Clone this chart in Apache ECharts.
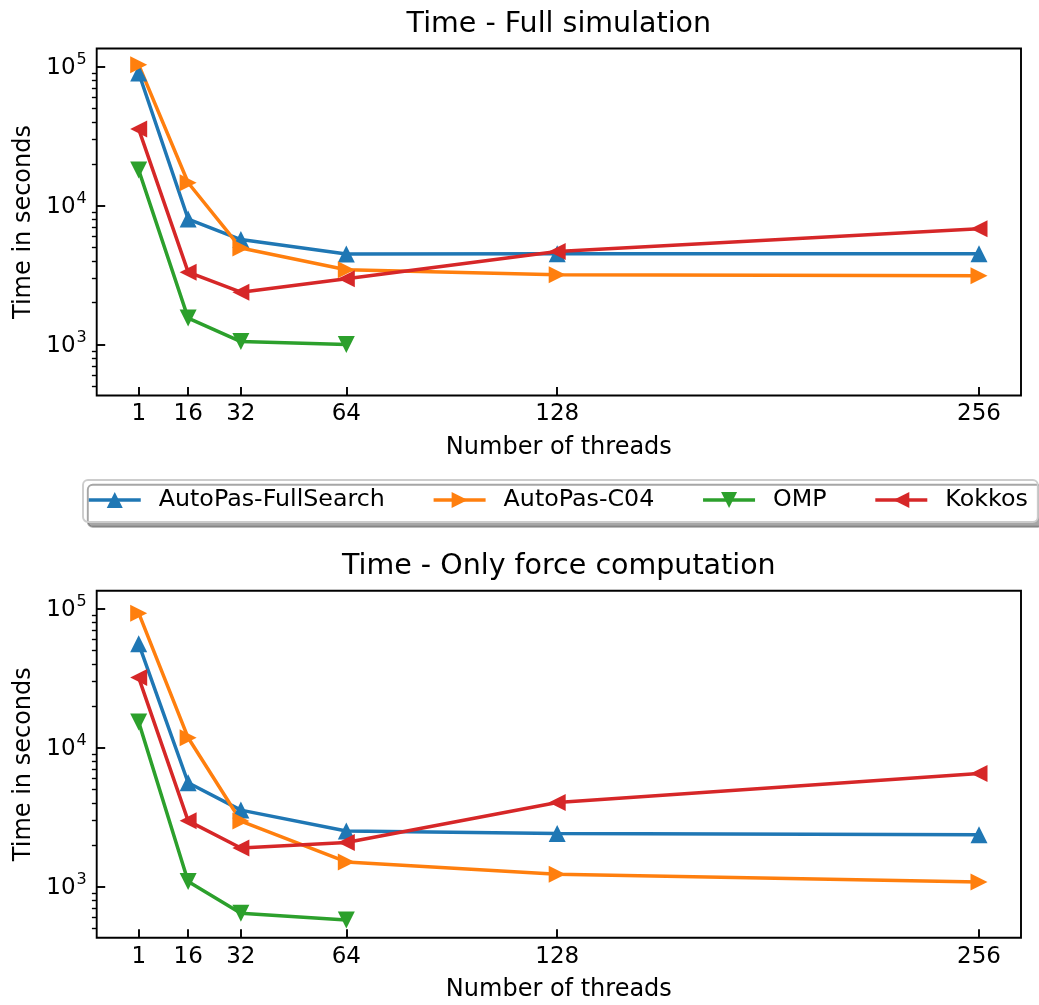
<!DOCTYPE html>
<html>
<head>
<meta charset="utf-8">
<script src="https://cdn.jsdelivr.net/npm/echarts@6/dist/echarts.min.js"></script>
<style>html,body{margin:0;padding:0;background:#fff}#c{width:1039px;height:1005px}</style>
</head>
<body>
<div id="c"></div>
<script>
// ---- data ----
const threads = [1, 16, 32, 64, 128, 256];
const ompThreads = [1, 16, 32, 64];
const seriesNames = ['AutoPas-FullSearch', 'AutoPas-C04', 'OMP', 'Kokkos'];

// Time - Full simulation (seconds)
const fullFullSearch = [90000, 8000, 5700, 4480, 4500, 4500];
const fullC04 = [103000, 14600, 4950, 3450, 3180, 3130];
const fullOMP = [18000, 1550, 1050, 1000];
const fullKokkos = [35500, 3320, 2380, 2980, 4670, 6800];

// Time - Only force computation (seconds)
const forceFullSearch = [56000, 5600, 3560, 2520, 2420, 2370];
const forceC04 = [93000, 11800, 2970, 1510, 1230, 1080];
const forceOMP = [15300, 1090, 645, 577];
const forceKokkos = [32000, 2980, 1900, 2080, 4040, 6530];

// tick labels
const xTicks = [1, 16, 32, 64, 128, 256];
const yMajorTicks = [1000, 10000, 100000];
const yMinorTicks = [500, 600, 700, 800, 900, 2000, 3000, 4000, 5000, 6000, 7000, 8000, 9000,
  20000, 30000, 40000, 50000, 60000, 70000, 80000, 90000];

const titles = ['Time - Full simulation', 'Time - Only force computation'];
const xName = 'Number of threads';
const yName = 'Time in seconds';

// ---- style ----
const FONT = 'DejaVu Sans';
const COLORS = ['#1f77b4', '#ff7f0e', '#2ca02c', '#d62728'];
const SYMBOLS = [
  'path://M0,-1L1,1L-1,1Z',   // triangle up
  'path://M-1,-1L1,0L-1,1Z',  // triangle right
  'path://M-1,-1L1,-1L0,1Z',  // triangle down
  'path://M1,-1L-1,0L1,1Z'    // triangle left
];
const Y_MIN = 430, Y_MAX = 135000;
const X_MIN = -11.75, X_MAX = 268.75;
const GRID_LEFT = 96.7, GRID_W = 924.3;
const gridTops = [48.5, 590.7];
const gridH = 347;

const grids = gridTops.map(t => ({
  left: GRID_LEFT, top: t, width: GRID_W, height: gridH,
  show: true, borderColor: '#000', borderWidth: 1.9, backgroundColor: 'transparent'
}));

const xAxes = [0, 1].map(g => ({
  type: 'value', gridIndex: g, min: X_MIN, max: X_MAX,
  name: xName, nameLocation: 'middle', nameGap: 40,
  nameTextStyle: { fontFamily: FONT, fontSize: 24, color: '#000' },
  axisLine: { show: false },
  axisTick: { show: true, inside: true, length: 8.5, customValues: xTicks,
    lineStyle: { color: '#000', width: 1.9 } },
  axisLabel: { show: true, customValues: xTicks, fontFamily: FONT, fontSize: 23, color: '#000', margin: 7.5 },
  splitLine: { show: false }
}));

const lg = v => Math.log10(v);
const yAxes = [];
[0, 1].forEach(g => {
  // data axis (log scale) carrying the series
  yAxes.push({
    type: 'log', logBase: 10, gridIndex: g, min: Y_MIN, max: Y_MAX, position: 'left',
    name: yName, nameLocation: 'middle', nameGap: 61,
    nameTextStyle: { fontFamily: FONT, fontSize: 24, color: '#000' },
    axisLine: { show: false }, axisTick: { show: false }, axisLabel: { show: false },
    splitLine: { show: false }, minorTick: { show: false }
  });
  // major ticks + labels (same scale expressed as exponent)
  yAxes.push({
    type: 'value', gridIndex: g, min: lg(Y_MIN), max: lg(Y_MAX), position: 'left',
    axisLine: { show: false },
    axisTick: { show: true, inside: true, length: 8.5, customValues: yMajorTicks.map(lg),
      lineStyle: { color: '#000', width: 1.9 } },
    axisLabel: {
      show: true, customValues: yMajorTicks.map(lg), margin: 10,
      formatter: v => '{b|10}{s|' + Math.round(v) + '}',
      rich: {
        b: { fontFamily: FONT, fontSize: 23, color: '#000', padding: [3, 0, 0, 0] },
        s: { fontFamily: FONT, fontSize: 16, color: '#000', padding: [0, 0, 14, 1] }
      }
    },
    splitLine: { show: false }
  });
  // minor ticks
  yAxes.push({
    type: 'value', gridIndex: g, min: lg(Y_MIN), max: lg(Y_MAX), position: 'left',
    axisLine: { show: false },
    axisTick: { show: true, inside: false, length: 4.8, customValues: yMinorTicks.map(lg),
      lineStyle: { color: '#000', width: 1.4 } },
    axisLabel: { show: false },
    splitLine: { show: false }
  });
});

function mk(idx, xs, ys, g) {
  return {
    type: 'line', name: seriesNames[idx], xAxisIndex: g, yAxisIndex: g * 3,
    data: xs.map((x, i) => [x, ys[i]]),
    symbol: SYMBOLS[idx], symbolSize: 17, showSymbol: true,
    lineStyle: { width: 3.5, color: COLORS[idx] },
    itemStyle: { color: COLORS[idx] },
    emphasis: { disabled: true },
    animation: false
  };
}

const series = [
  mk(0, threads, fullFullSearch, 0),
  mk(1, threads, fullC04, 0),
  mk(2, ompThreads, fullOMP, 0),
  mk(3, threads, fullKokkos, 0),
  mk(0, threads, forceFullSearch, 1),
  mk(1, threads, forceC04, 1),
  mk(2, ompThreads, forceOMP, 1),
  mk(3, threads, forceKokkos, 1)
];

const titleCenter = GRID_LEFT + GRID_W / 2;
const option = {
  backgroundColor: '#fff',
  animation: false,
  title: [
    { text: titles[0], left: titleCenter, top: 10, padding: 0, textAlign: 'center', textVerticalAlign: 'top',
      textStyle: { fontFamily: FONT, fontSize: 28.5, fontWeight: 'normal', color: '#000' } },
    { text: titles[1], left: titleCenter, top: 552, padding: 0, textAlign: 'center', textVerticalAlign: 'top',
      textStyle: { fontFamily: FONT, fontSize: 28.5, fontWeight: 'normal', color: '#000' } }
  ],
  legend: {
    data: seriesNames, orient: 'horizontal', left: 83, top: 480,
    itemWidth: 52, itemHeight: 20, itemGap: 47,
    padding: [8, 10, 10, 4],
    backgroundColor: '#fff', borderColor: '#cccccc', borderWidth: 1.9, borderRadius: 5,
    shadowColor: 'rgba(77,77,77,0.5)', shadowOffsetX: 4.8, shadowOffsetY: 4.8, shadowBlur: 0,
    textStyle: { fontFamily: FONT, fontSize: 23.75, color: '#000', padding: [0, 0, 0, 13] },
    lineStyle: { width: 3.5 },
    selectedMode: false
  },
  grid: grids,
  xAxis: xAxes,
  yAxis: yAxes,
  series: series
};

const chart = echarts.init(document.getElementById('c'), null, { renderer: 'canvas' });
chart.setOption(option);
</script>
</body>
</html>
